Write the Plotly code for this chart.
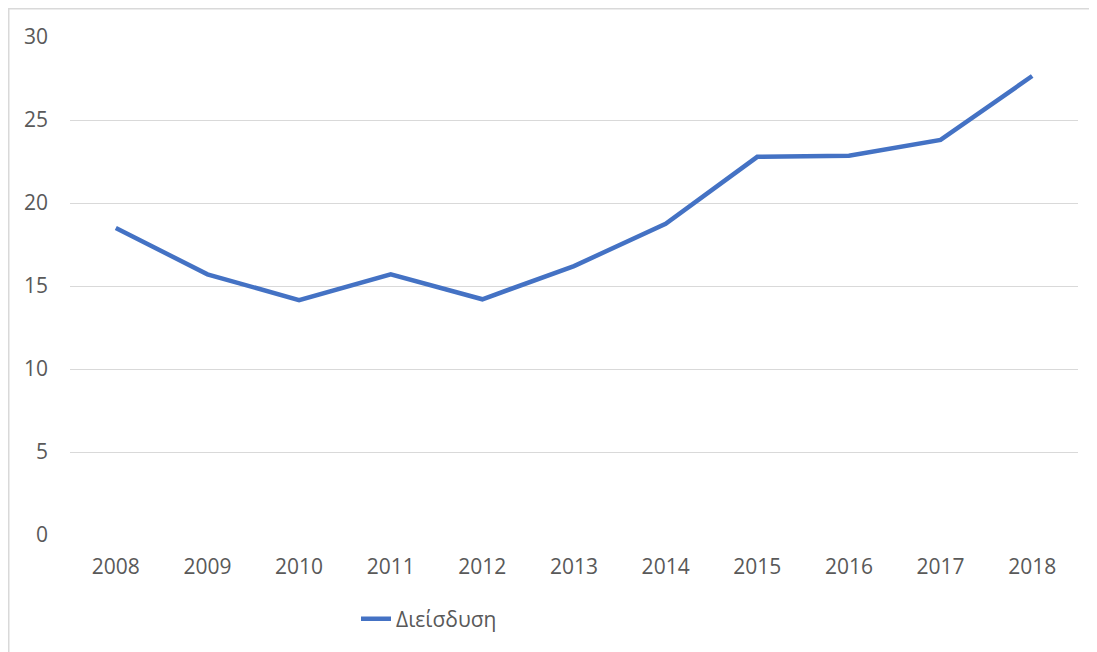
import plotly.graph_objects as go

years = ["2008", "2009", "2010", "2011", "2012", "2013", "2014", "2015", "2016", "2017", "2018"]
values = [18.5, 15.7, 14.15, 15.7, 14.2, 16.2, 18.75, 22.78, 22.85, 23.8, 27.65]
y_ticks = [0, 5, 10, 15, 20, 25, 30]
series_name = "Διείσδυση"

# page body has an 8px margin, so the figure sits at (8, 8) in the window
OFF = 8
W, H = 1097 - OFF, 652 - OFF
L, R, T, B = 70 - OFF, 19, 37 - OFF, 117
pw, ph = W - L - R, H - T - B

fig = go.Figure()
fig.add_trace(go.Scatter(
    x=years, y=values, mode="lines", name=series_name,
    line=dict(color="#4472C4", width=4.5),
))

def px_x(p):
    return (p - OFF - L) / pw

def px_y(p):
    return (H - B - (p - OFF)) / ph

fig.update_layout(
    width=W, height=H,
    margin=dict(l=L, r=R, t=T, b=B),
    paper_bgcolor="white", plot_bgcolor="white",
    font=dict(family="Open Sans, DejaVu Sans, sans-serif", size=21, color="#595959"),
    showlegend=True,
    legend=dict(
        orientation="h", x=px_x(356), y=px_y(619), xanchor="left", yanchor="middle",
        font=dict(size=21, color="#595959"), bgcolor="rgba(0,0,0,0)",
    ),
    xaxis=dict(
        type="category", range=[-0.5, 10.5], showgrid=False, zeroline=False,
        showline=False, ticks="", ticklabelstandoff=17,
    ),
    yaxis=dict(
        range=[0, 30], tickvals=y_ticks, showgrid=True, gridcolor="#d9d9d9",
        gridwidth=1, zeroline=False, showline=False, ticks="", ticklabelstandoff=21,
    ),
    shapes=[dict(
        type="rect", xref="paper", yref="paper",
        x0=px_x(8.75), x1=px_x(1120), y0=px_y(680), y1=px_y(8.75),
        line=dict(color="#d9d9d9", width=1.5), fillcolor="rgba(0,0,0,0)", layer="below",
    )],
)

fig.write_html("out.html")
